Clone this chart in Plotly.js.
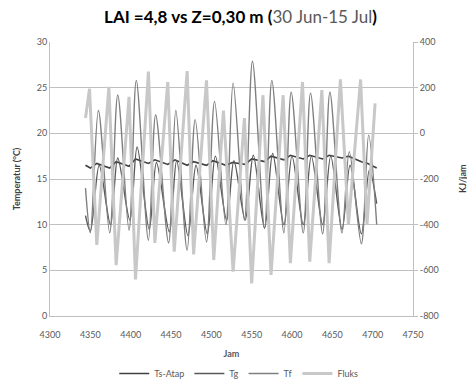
<!DOCTYPE html>
<html><head><meta charset="utf-8">
<script src="https://cdn.plot.ly/plotly-3.0.1.min.js"></script>
<style>html,body{margin:0;padding:0;background:#fff}#c{width:467px;height:388px}</style>
</head><body><div id="c"></div>
<script>
// Ts-Atap (left axis, °C)
const tsHour = [4344,4350,4358,4374,4382,4398,4406,4422,4430,4446,4455,4470,4478,4494,4502,4518,4526,4542,4550,4566,4574,4590,4598,4614,4622,4638,4646,4662,4670,4686,4694,4705];
const tsVal  = [16.5,16.2,16.7,16.2,16.9,16.4,17.2,16.7,17.1,16.6,17.1,16.5,16.9,16.5,17.0,16.5,16.8,16.6,17.2,16.9,17.5,17.1,17.6,17.2,17.6,17.2,17.6,17.3,17.5,16.9,16.7,16.2];
// Tg (left axis, °C)
const tgHour = [4344,4350,4361,4375,4384,4399,4408,4423,4432,4448,4457,4471,4481,4495,4505,4519,4528,4542,4552,4566,4576,4590,4600,4614,4624,4638,4648,4662,4672,4686,4696,4705];
const tgVal  = [11.0,9.3,16.5,10.0,17.3,10.5,18.5,9.5,16.8,9.2,17.0,8.8,16.5,9.0,17.5,10.5,17.0,10.5,17.6,9.6,17.8,10.0,17.5,10.0,17.5,10.0,17.5,9.5,16.5,9.0,16.0,12.3];
// Tf (left axis, °C)
const tfHour = [4344,4350,4360,4374,4384,4398,4407,4422,4431,4447,4456,4470,4480,4494,4504,4518,4527,4541,4551,4566,4575,4590,4599,4614,4623,4638,4647,4662,4671,4686,4695,4705];
const tfVal  = [14.0,9.1,22.5,9.1,24.2,9.4,25.8,8.3,22.0,8.0,22.5,7.2,21.5,8.1,23.5,10.0,25.5,10.5,27.9,9.6,25.8,9.1,24.5,9.1,24.4,9.0,24.5,9.1,18.0,7.9,19.8,10.0];
// Fluks (right axis, KJ/jam)
const fxHour = [4344,4349,4358,4373,4382,4398,4406,4422,4430,4446,4454,4470,4478,4494,4503,4515,4527,4541,4550,4564,4574,4589,4598,4613,4622,4637,4646,4660,4670,4685,4693,4703];
const fxVal  = [67,195,-489,204,-577,160,-640,270,-480,225,-518,273,-530,232,-555,100,-606,67,-657,167,-620,167,-569,225,-562,189,-569,236,-400,236,-400,131];

const leftTicks = [0,5,10,15,20,25,30];
const rightTicks = [-800,-600,-400,-200,0,200,400];
const xTicks = [4300,4350,4400,4450,4500,4550,4600,4650,4700,4750];

const F = "Lato, 'Liberation Sans', sans-serif";
const traces = [
  {x: tsHour, y: tsVal, name: 'Ts-Atap', type: 'scatter', mode: 'lines', line: {color: '#404040', width: 1.6}},
  {x: tgHour, y: tgVal, name: 'Tg', type: 'scatter', mode: 'lines', line: {color: '#595959', width: 1.4, shape: 'spline', smoothing: 0.9}},
  {x: tfHour, y: tfVal, name: 'Tf', type: 'scatter', mode: 'lines', line: {color: '#7f7f7f', width: 1.4, shape: 'spline', smoothing: 0.9}},
  {x: fxHour, y: fxVal, name: 'Fluks', type: 'scatter', mode: 'lines', yaxis: 'y2', line: {color: '#c8c8c8', width: 3}}
];
const layout = {
  width: 467, height: 388,
  margin: {l: 50, r: 54, t: 42, b: 72, autoexpand: false},
  paper_bgcolor: '#fff', plot_bgcolor: '#fff',
  font: {family: F, size: 9, color: '#595959'},
  title: {text: "<b>LAI =4,8 vs Z=0,30 m (</b><span style='color:#595959'>30 Jun-15 Jul</span><b>)</b>",
          font: {family: F, size: 17, color: '#000'}, x: 0.515, xanchor: 'center', y: 0.955, yanchor: 'middle'},
  showlegend: true,
  legend: {orientation: 'h', x: 0.52, xanchor: 'center', yref: 'container', y: 0.0, yanchor: 'bottom',
           font: {size: 9, color: '#595959'}, itemwidth: 30, traceorder: 'normal'},
  xaxis: {range: [4300, 4750], tickvals: xTicks, ticktext: xTicks.map(String), showgrid: false, zeroline: false,
          showline: true, linecolor: '#bfbfbf', linewidth: 1, ticks: '', ticklabelstandoff: 10, tickfont: {size: 9, color: '#595959'},
          title: {text: '<b>Jam</b>', font: {size: 9, color: '#595959'}, standoff: 14}},
  yaxis: {range: [0, 30], tickvals: leftTicks, ticktext: leftTicks.map(String), showgrid: true, gridcolor: '#c0c0c0', gridwidth: 1,
          zeroline: false, showline: true, linecolor: '#bfbfbf', ticks: '', tickfont: {size: 9, color: '#595959'},
          title: {text: '<b>Temperatur (<sup>o</sup>C)</b>', font: {size: 9, color: '#404040'}, standoff: 14}},
  yaxis2: {range: [-800, 400], overlaying: 'y', side: 'right', tickvals: rightTicks, ticktext: rightTicks.map(String),
           showgrid: false, zeroline: false, showline: true, linecolor: '#bfbfbf', ticks: 'outside', ticklen: 4, tickcolor: '#bfbfbf',
           tickfont: {size: 9, color: '#595959'}},
  annotations: [{text: '<b>KJ/jam</b>', xref: 'paper', yref: 'paper', x: 1.135, y: 0.5, xanchor: 'center', yanchor: 'middle',
                 textangle: -90, showarrow: false, font: {size: 9, color: '#404040'}}]
};
Plotly.newPlot('c', traces, layout, {displayModeBar: false, staticPlot: true});
</script></body></html>
